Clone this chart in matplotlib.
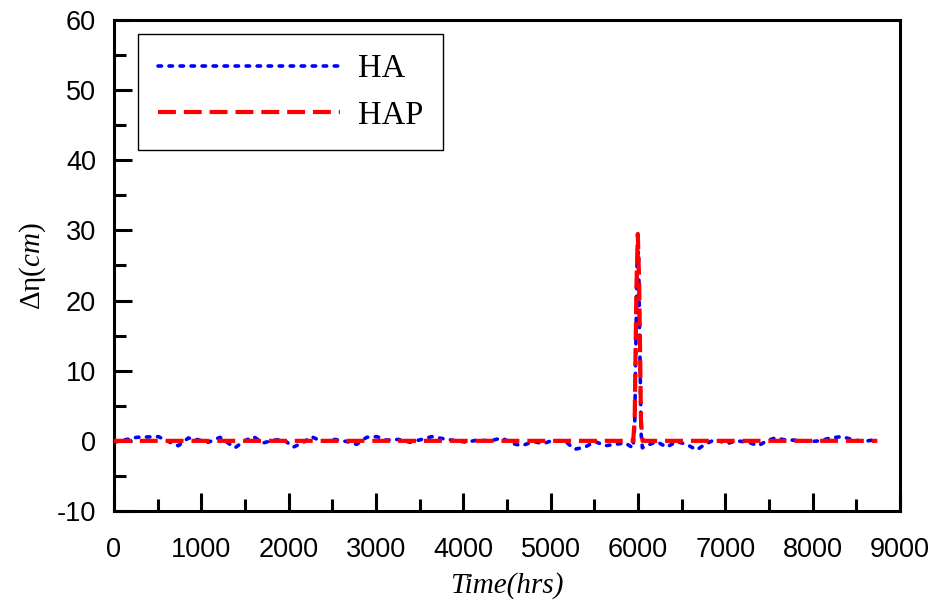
import matplotlib
matplotlib.use("Agg")
import matplotlib.pyplot as plt
from matplotlib.ticker import MultipleLocator

plt.rcParams['mathtext.fontset'] = 'custom'
plt.rcParams['mathtext.rm'] = 'Liberation Serif'
plt.rcParams['mathtext.it'] = 'Liberation Serif:italic'
plt.rcParams['axes.unicode_minus'] = False

# HA series (time in hrs, water level change in cm)
ha_t = [0, 260, 508, 641, 737, 851, 947, 1080, 1214, 1386, 1481, 1595, 1710, 1825,
        1939, 2054, 2169, 2263, 2378, 2530, 2664, 2779, 2893, 3008, 3123, 3256,
        3390, 3523, 3638, 3771, 3924, 4039, 4153, 4306, 4439, 4573, 4669, 4802,
        4916, 5030, 5180, 5275, 5392, 5508, 5623, 5737, 5852, 5943, 5962, 5976,
        5990, 6006, 6020, 6036, 6050, 6098, 6213, 6327, 6442, 6557, 6672, 6767,
        6882, 7015, 7130, 7263, 7378, 7474, 7569, 7702, 7837, 7970, 8085, 8199,
        8333, 8448, 8581, 8734]
ha_v = [-0.2, 0.5, 0.6, -0.2, -0.7, 0.4, 0.2, -0.2, 0.5, -1.0, -0.1, 0.6, -0.3, 0.1,
        0.2, -0.9, -0.2, 0.6, -0.1, 0.2, -0.1, -0.5, 0.5, 0.6, 0.1, 0.2,
        -0.2, 0.2, 0.6, 0.3, 0.0, -0.2, 0.1, 0.0, 0.4, -0.4, -0.7, -0.1,
        -0.4, 0.1, -0.2, -1.2, -0.9, -0.1, -0.7, -0.5, -0.3, -1.0, 2.0, 14.0,
        26.0, 27.0, 14.0, 1.0, -1.0, -0.7, -0.1, -0.9, -0.1, -0.5, -1.3, -0.5,
        0.2, -0.4, 0.0, -0.2, -0.7, 0.0, 0.4, 0.1, 0.1, -0.1, 0.0, 0.4,
        0.6, 0.2, -0.1, 0.2]

# HAP series
hap_t = [0, 5945, 5962, 5982, 5998, 6014, 6034, 6052, 8740]
hap_v = [0.0, 0.0, 3.0, 22.0, 29.5, 22.0, 3.0, 0.0, 0.0]

series_labels = ['HA', 'HAP']

fig = plt.figure(figsize=(9.38, 6.04), dpi=100)
ax = fig.add_axes([0.1215, 0.154, 0.838, 0.813])

ax.plot(ha_t, ha_v, color='#0000ff', lw=2.6, linestyle=(0, (0.95, 2.1)),
        dash_capstyle='round', label=series_labels[0], zorder=2)
ax.plot(hap_t, hap_v, color='#ff0000', lw=3.0, linestyle=(0, (4.3, 1.9)),
        label=series_labels[1], zorder=3)

ax.set_xlim(0, 9000)
ax.set_ylim(-10, 60)
ax.xaxis.set_major_locator(MultipleLocator(1000))
ax.xaxis.set_minor_locator(MultipleLocator(500))
ax.yaxis.set_major_locator(MultipleLocator(10))
ax.yaxis.set_minor_locator(MultipleLocator(5))
ax.tick_params(which='both', direction='in', top=False, right=False, width=2.2)
ax.tick_params(which='major', length=13)
ax.tick_params(which='minor', length=8.5)
ax.tick_params(axis='x', which='major', pad=19)
ax.tick_params(axis='y', which='major', pad=13)
for s in ax.spines.values():
    s.set_linewidth(2.2)

for lab in ax.get_xticklabels() + ax.get_yticklabels():
    lab.set_fontfamily('Liberation Sans')
    lab.set_fontsize(19.5)

ax.set_xlabel('Time(hrs)', fontfamily='Liberation Serif', fontstyle='italic',
              fontsize=21, labelpad=6)
ax.set_ylabel(r'$\mathrm{\Delta\eta}\mathit{(cm)}$', fontsize=21, labelpad=6)

leg = ax.legend(loc='upper left', bbox_to_anchor=(0.0305, 0.9715), borderaxespad=0,
                handlelength=5.6, handletextpad=0.55, borderpad=0.6,
                labelspacing=0.5, fancybox=False, framealpha=1,
                prop={'family': 'Liberation Serif', 'size': 23.5})
leg.get_frame().set_edgecolor('black')
leg.get_frame().set_linewidth(1.0)

fig.savefig('out.png', dpi=100)
